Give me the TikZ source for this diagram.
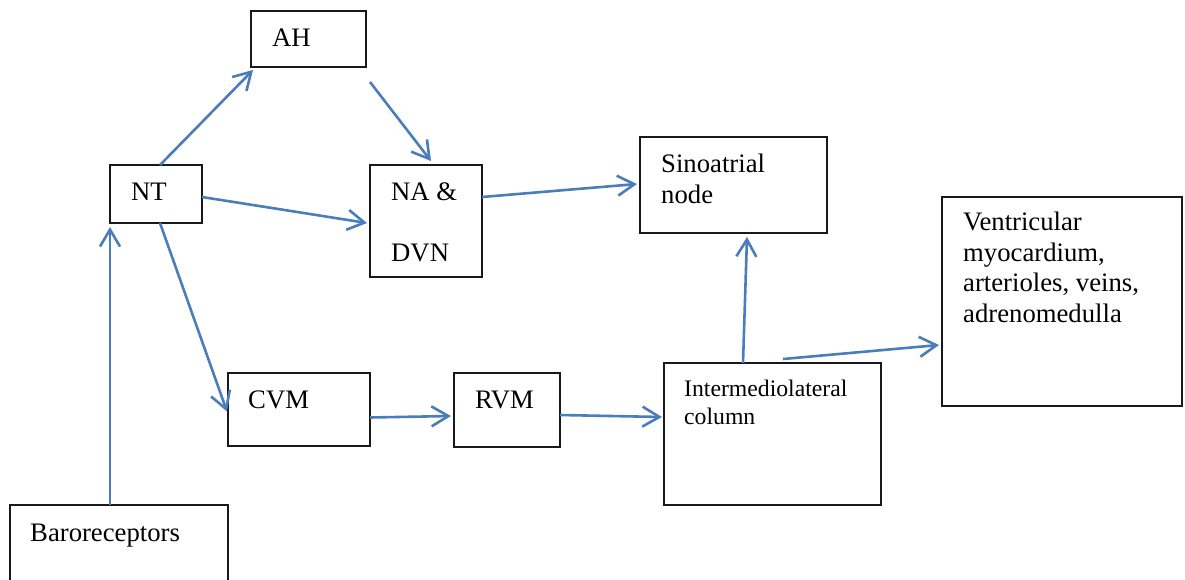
\documentclass[tikz,border=0pt]{standalone}
\usepackage{fontspec}
\setmainfont{Liberation Serif}
\usetikzlibrary{arrows.meta, calc}
\definecolor{flowblue}{HTML}{4A7EBB}

\begin{document}
\begin{tikzpicture}[
    x=1pt, y=-1pt,
    box/.style={
        draw=black!90,
        line width=1.2pt,
        anchor=north west,
        outer sep=0pt,
        inner sep=0pt
    },
    txt/.style={
        anchor=base west,
        inner sep=0pt,
        align=left,
        font=\fontsize{26.7}{30.5}\selectfont
    },
    smalltxt/.style={
        txt,
        font=\fontsize{23.7}{28}\selectfont
    },
    link/.style={
        -{Straight Barb[length=17pt,width=20pt]},
        line width=2.6pt,
        draw=flowblue
    }
]

\useasboundingbox (0,0) rectangle (1185,579);

% --- BOXES ----------------------------------------------------

\node[box, minimum width=115pt, minimum height=56pt]  (AH)   at (251,11)  {};
\node[box, minimum width=92pt,  minimum height=58pt]  (NT)   at (110,165) {};
\node[box, minimum width=112pt, minimum height=112pt] (NA)   at (370,165) {};
\node[box, minimum width=187pt, minimum height=96pt]  (SA)   at (640,137) {};
\node[box, minimum width=240pt, minimum height=209pt] (Vent) at (942,197) {};
\node[box, minimum width=142pt, minimum height=73pt]  (CVM)  at (228,373) {};
\node[box, minimum width=106pt, minimum height=74pt]  (RVM)  at (454,373) {};
\node[box, minimum width=217pt, minimum height=142pt] (IML)  at (664,363) {};
\node[box, minimum width=218pt, minimum height=90pt]  (Baro) at (10,505)  {};

% --- TEXTS (base = last line) ---------------------------------

\node[txt] (AHtxt)   at (272,46)  {AH};
\node[txt] (NTtxt)   at (131,200) {NT};
\node[txt] (NAtxt)   at (391,261) {NA \&\\[30.5pt]DVN};
\node[txt] (SAtxt)   at (661,203) {Sinoatrial\\node};
\node[txt] (Venttxt) at (963,322) {Ventricular\\myocardium,\\arterioles, veins,\\adrenomedulla};
\node[txt] (CVMtxt)  at (248,408) {CVM};
\node[txt] (RVMtxt)  at (475,408) {RVM};
\node[smalltxt] (IMLtxt) at (684,424) {Intermediolateral\\column};
\node[txt] (Barotxt) at (30,541)  {Baroreceptors};

% --- CONNECTIONS ----------------------------------------------

\draw[link] (Baro.north -| NT.south west) -- ($(NT.south west)+(0,4)$);
\draw[link] ($(NT.north)+(4,0)$) -- ($(AH.south west)+(2,3)$);
\draw[link] ($(AH.south east)+(4,15)$) -- ($(NA.north)+(5,-4)$);
\draw[link] ($(NT.east)+(0,3)$) -- ($(NA.west)+(-3,2)$);
\draw[link] ($(NT.south)+(4,0)$) -- ($(CVM.west)+(-1,2)$);
\draw[link] ($(NA.east)+(0,-24)$) -- ($(SA.west)+(-3,-1)$);
\draw[link] ($(CVM.east)+(0,8)$) -- ($(RVM.west)+(-3,6)$);
\draw[link] ($(RVM.east)+(0,5)$) -- ($(IML.west)+(-2,-17)$);
\draw[link] ($(IML.north)+(-29.5,0)$) -- ($(SA.south)+(13.5,4)$);
\draw[link] ($(IML.north)+(10.5,-4)$) -- ($(Vent.west)+(-3,43.5)$);

\end{tikzpicture}
\end{document}
